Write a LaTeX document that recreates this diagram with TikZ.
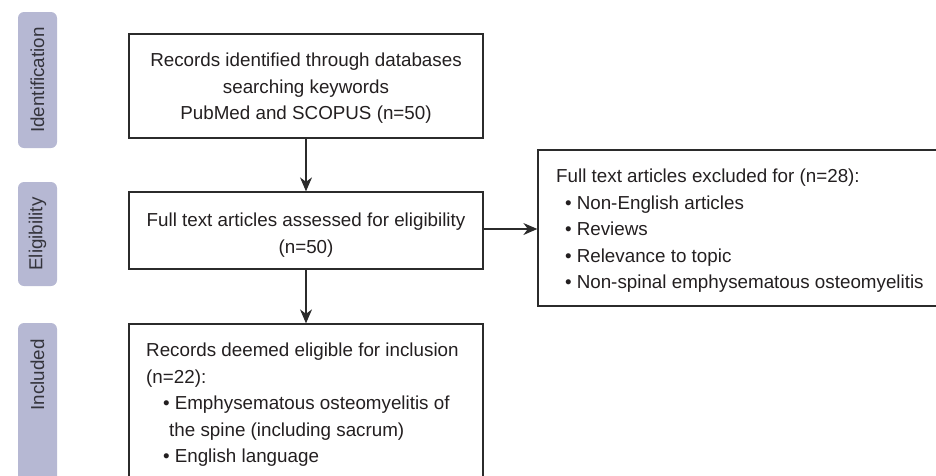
\documentclass[tikz,border=0pt]{standalone}
\usepackage{fontspec}
\setmainfont{Liberation Sans}
\usetikzlibrary{arrows.meta}
\definecolor{linec}{HTML}{2B2B2B}
\definecolor{tabfill}{HTML}{B6B8D3}
\definecolor{tabtext}{HTML}{34343C}
\definecolor{txt}{HTML}{231F20}
\tikzset{
  tabbox/.style={fill=tabfill, rounded corners=6pt, draw=none, minimum width=39pt, inner sep=0pt},
  tablabel/.style={rotate=90, text=tabtext, font=\fontsize{18.8}{22}\selectfont, inner sep=0pt},
  flowbox/.style={draw=linec, line width=1.3pt, rectangle, inner sep=0pt, minimum width=354pt},
  boxtext/.style={text=txt, font=\fontsize{18.8}{26.5}\selectfont, inner sep=0pt},
  arr/.style={draw=linec, line width=1.3pt, -{Stealth[length=14pt,width=12pt,inset=4.5pt]}}
}
\begin{document}
\begin{tikzpicture}[x=1pt,y=-1pt]
\useasboundingbox (0,0) rectangle (936,475);
\clip (0,0) rectangle (936,475);
% side tabs
\node[tabbox, minimum height=136pt] (tab1) at (37.5,80) {};
\node[tablabel] (tab1t) at (37.5,80) {Identification};
\node[tabbox, minimum height=104pt] (tab2) at (37.5,234) {};
\node[tablabel] (tab2t) at (37.5,234) {Eligibility};
\node[tabbox, minimum height=160pt] (tab3) at (37.5,403) {};
\node[tablabel] (tab3t) at (37.5,375) {Included};
% boxes
\node[flowbox, minimum height=104pt] (b1) at (306,86) {};
\node[flowbox, minimum height=77pt] (b2) at (306,230.5) {};
\node[flowbox, minimum height=160pt] (b3) at (306,404) {};
\node[flowbox, minimum width=404pt, minimum height=156pt] (b4) at (740,228) {};
% texts (base anchor = last line baseline)
\node[boxtext, align=center, anchor=base] (t1) at (306,119.5)
  {Records identified through databases\\searching keywords\\PubMed and SCOPUS (n=50)};
\node[boxtext, align=center, anchor=base] (t2) at (306,253)
  {Full text articles assessed for eligibility\\(n=50)};
\node[boxtext, align=left, anchor=base west] (t3) at (146,462.5)
  {Records deemed eligible for inclusion\\
   (n=22):\\
   \hspace*{17pt}•\hspace{5pt}Emphysematous osteomyelitis of\\
   \hspace*{23pt}the spine (including sacrum)\\
   \hspace*{17pt}•\hspace{5pt}English language};
\node[boxtext, align=left, anchor=base west] (t4) at (556,288.5)
  {Full text articles excluded for (n=28):\\
   \hspace*{9pt}•\hspace{5pt}Non-English articles\\
   \hspace*{9pt}•\hspace{5pt}Reviews\\
   \hspace*{9pt}•\hspace{5pt}Relevance to topic\\
   \hspace*{9pt}•\hspace{5pt}Non-spinal emphysematous osteomyelitis};
% connectors
\draw[arr] (b1.south) -- (b2.north);
\draw[arr] (b2.south) -- (b3.north);
\draw[arr] (b2.east |- 0,229) -- (b4.west |- 0,229);
\end{tikzpicture}
\end{document}
